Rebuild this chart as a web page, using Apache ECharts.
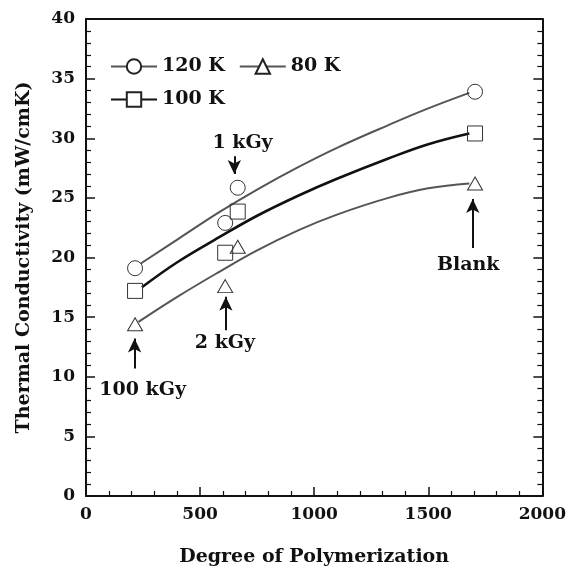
<!DOCTYPE html>
<html>
<head>
<meta charset="utf-8">
<script src="https://cdn.jsdelivr.net/npm/echarts@6/dist/echarts.min.js"></script>
<style>
html, body { margin: 0; padding: 0; background: #fff; }
#container { width: 569px; height: 576px; }
</style>
</head>
<body>
<div id="container"></div>
<script>
var dom = document.getElementById('container');
var myChart = echarts.init(dom);

var FONT = 'DejaVu Serif';

// measured points [degree of polymerization, conductivity]
var pts120 = [[215, 19.1], [610, 22.9], [665, 25.85], [1705, 33.9]];
var pts100 = [[215, 17.2], [610, 20.4], [665, 23.85], [1705, 30.4]];
var pts80 = [[215, 14.4], [610, 17.6], [665, 20.9], [1705, 26.2]];

// fitted curves
var fit120 = [[240, 19.5], [400, 21.5], [584, 23.8], [750, 25.7], [932, 27.6], [1100, 29.2], [1325, 31.1], [1500, 32.5], [1680, 33.8]];
var fit100 = [[245, 17.5], [400, 19.6], [584, 21.7], [750, 23.5], [932, 25.2], [1100, 26.6], [1325, 28.3], [1500, 29.5], [1680, 30.4]];
var fit80 = [[230, 14.6], [400, 16.7], [584, 18.8], [750, 20.6], [932, 22.3], [1100, 23.6], [1325, 25.0], [1500, 25.8], [1680, 26.2]];

// annotations: text, text position, arrow from -> to
var noteText = ['1 kGy', '2 kGy', '100 kGy', 'Blank'];
var notePos = [[686, 29.6], [609, 12.8], [248, 8.9], [1675, 19.4]];
var arrowFrom = [[650, 28.5], [613, 13.9], [213, 10.7], [1695, 20.8]];
var arrowTo = [[650, 27.0], [613, 16.7], [213, 13.2], [1695, 24.9]];

var names = ['120 K', '100 K', '80 K'];
var symbols = ['circle', 'rect', 'triangle'];
var pts = [pts120, pts100, pts80];
var fits = [fit120, fit100, fit80];
var lineColors = ['#555', '#111', '#555'];
var lineWidths = [2, 2.6, 2];

var series = [];
for (var i = 0; i < 3; i++) {
    // curve (carries the legend entry)
    series.push({
        name: names[i],
        type: 'line',
        data: fits[i],
        smooth: 0.4,
        showSymbol: false,
        symbol: symbols[i],
        itemStyle: { color: '#fff', borderColor: '#222', borderWidth: 1 },
        lineStyle: { color: lineColors[i], width: lineWidths[i] },
        silent: true,
        z: 2
    });
    // markers
    series.push({
        name: names[i] + ' pts',
        type: 'scatter',
        data: pts[i],
        symbol: symbols[i],
        symbolSize: i === 2 ? [15, 13] : 15,
        itemStyle: { color: 'rgba(255,255,255,0)', borderColor: '#333', borderWidth: 1, opacity: 1 },
        silent: true,
        z: 3
    });
}

var arrows = [];
for (var j = 0; j < arrowFrom.length; j++) {
    arrows.push([{ coord: arrowFrom[j] }, { coord: arrowTo[j] }]);
}
var noteData = [];
for (var k = 0; k < noteText.length; k++) {
    noteData.push({ value: notePos[k], name: noteText[k] });
}

series.push({
    name: 'notes',
    type: 'scatter',
    data: noteData,
    symbolSize: 0,
    silent: true,
    itemStyle: { opacity: 1 },
    label: {
        show: true,
        position: 'inside',
        formatter: '{b}',
        color: '#111',
        textBorderWidth: 0,
        fontFamily: FONT,
        fontWeight: 'bold',
        fontSize: 19
    },
    markLine: {
        silent: true,
        symbol: ['none', 'arrow'],
        symbolSize: [10, 14],
        label: { show: false },
        lineStyle: { color: '#111', width: 2, type: 'solid' },
        data: arrows
    }
});

var axisLine = { show: true, onZero: false, lineStyle: { color: '#111', width: 2 } };
var tickOpts = { show: true, inside: true, length: 9, lineStyle: { color: '#111', width: 1.5 } };
var minorOpts = { show: true, splitNumber: 5, length: 5, lineStyle: { color: '#111', width: 1.2 } };
var labelOpts = { color: '#111', fontFamily: FONT, fontWeight: 'bold', fontSize: 17 };

option = {
    animation: false,
    backgroundColor: '#fff',
    grid: { left: 86, right: 24, top: 19, bottom: 80 },
    legend: {
        data: ['120 K', '80 K', '100 K'],
        left: 105,
        top: 52,
        width: 250,
        itemWidth: 46,
        itemHeight: 18,
        itemGap: 14,
        selectedMode: false,
        textStyle: { color: '#111', fontFamily: FONT, fontWeight: 'bold', fontSize: 19 }
    },
    xAxis: [{
        type: 'value',
        position: 'bottom',
        min: 0, max: 2000, interval: 500,
        axisLine: axisLine,
        axisTick: tickOpts,
        minorTick: minorOpts,
        splitLine: { show: false },
        axisLabel: Object.assign({ margin: 10, formatter: function (v) { return String(v); } }, labelOpts),
        name: 'Degree of Polymerization',
        nameLocation: 'middle',
        nameGap: 52,
        nameTextStyle: { color: '#111', fontFamily: FONT, fontWeight: 'bold', fontSize: 19 }
    }, {
        type: 'value',
        position: 'top',
        min: 0, max: 2000, interval: 500,
        axisLine: axisLine,
        axisTick: { show: false },
        axisLabel: { show: false },
        splitLine: { show: false }
    }],
    yAxis: [{
        type: 'value',
        position: 'left',
        min: 0, max: 40, interval: 5,
        axisLine: axisLine,
        axisTick: tickOpts,
        minorTick: minorOpts,
        splitLine: { show: false },
        axisLabel: Object.assign({ margin: 11 }, labelOpts),
        name: 'Thermal Conductivity (mW/cmK)',
        nameLocation: 'middle',
        nameGap: 52,
        nameTextStyle: { color: '#111', fontFamily: FONT, fontWeight: 'bold', fontSize: 19 }
    }, {
        type: 'value',
        position: 'right',
        min: 0, max: 40, interval: 5,
        axisLine: axisLine,
        axisTick: tickOpts,
        minorTick: minorOpts,
        splitLine: { show: false },
        axisLabel: { show: false }
    }],
    series: series
};

if (option && typeof option === 'object') {
    myChart.setOption(option, true);
}
</script>
</body>
</html>
